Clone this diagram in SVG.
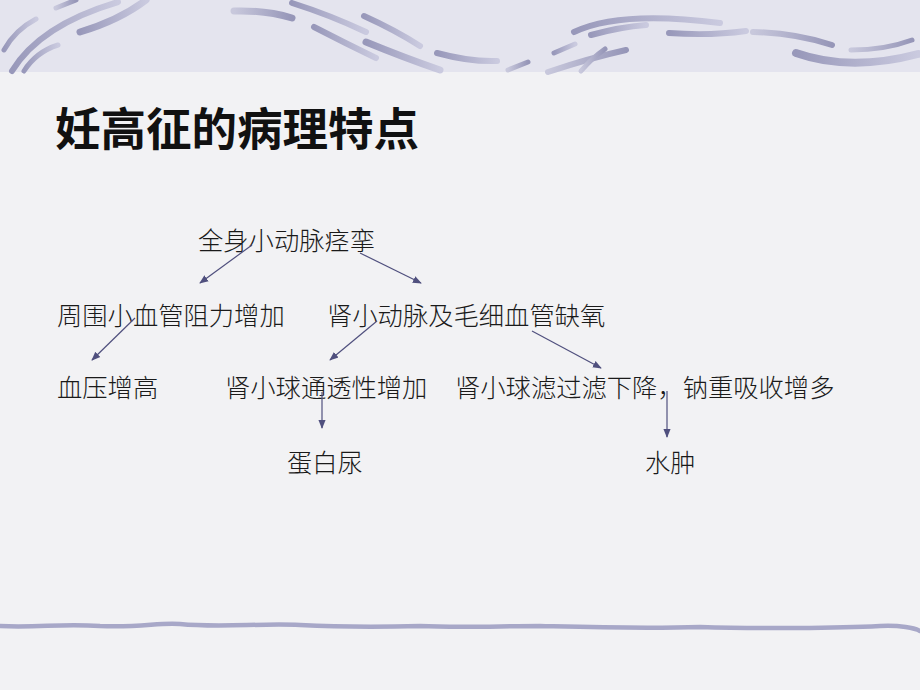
<svg xmlns="http://www.w3.org/2000/svg" width="920" height="690" viewBox="0 0 920 690">
<defs>
<linearGradient id="sg" x1="0" y1="0" x2="1" y2="0">
<stop offset="0" stop-color="#c8c8dc"/>
<stop offset="1" stop-color="#9696b8"/>
</linearGradient>
<linearGradient id="sg2" x1="0" y1="0" x2="1" y2="0">
<stop offset="0" stop-color="#9898ba"/>
<stop offset="1" stop-color="#cacadf"/>
</linearGradient>
<marker id="ah" viewBox="0 0 10 10" refX="9" refY="5" markerWidth="9" markerHeight="9" markerUnits="userSpaceOnUse" orient="auto">
<path d="M0,1 L10,5 L0,9 Z" fill="#50507e"/>
</marker>
<style>
.t{font-family:"Liberation Serif","Noto Sans CJK SC",serif;font-size:25.3px;font-weight:300;fill:#1a1a1a}
.title{font-family:"Liberation Sans","Noto Sans CJK SC",sans-serif;font-size:45.5px;font-weight:bold;fill:#111}
.c{stroke:#50507e;stroke-width:1.2;fill:none;marker-end:url(#ah)}
.s{fill:none;stroke-linecap:round;stroke:url(#sg)}
.s2{fill:none;stroke-linecap:round;stroke:url(#sg2)}
</style>
</defs>
<rect width="920" height="690" fill="#f2f2f4"/>
<rect width="920" height="72" fill="#e4e4ee"/>
<g id="decor-top">
<path class="s2" stroke-width="5" d="M4,50 Q15,30 36,19"/>
<path class="s2" stroke-width="6" d="M12,71 Q40,25 118,2"/>
<path class="s2" stroke-width="7" d="M80,32 Q120,20 146,0"/>
<path class="s" stroke-width="5" d="M56,8 L76,0"/>
<path class="s2" stroke-width="5" d="M24,71 Q36,52 58,45"/>
<path class="s" stroke-width="7" d="M234,11 Q265,10 292,18"/>
<path class="s2" stroke-width="6" d="M292,3 Q330,15 366,32"/>
<path class="s2" stroke-width="6" d="M314,27 Q345,43 376,58"/>
<path class="s2" stroke-width="6" d="M364,16 Q395,30 420,46"/>
<path class="s2" stroke-width="7" d="M366,42 Q405,58 440,70"/>
<path class="s2" stroke-width="6" d="M437,53 Q470,62 497,61"/>
<path class="s" stroke-width="5" d="M508,70 L528,62"/>
<path class="s" stroke-width="6" d="M548,72 Q590,58 626,50"/>
<path class="s2" stroke-width="5" d="M554,53 L575,44"/>
<path class="s" stroke-width="5" d="M581,71 Q592,58 605,49"/>
<path class="s2" stroke-width="6" d="M574,32 Q620,10 720,23"/>
<path class="s2" stroke-width="6" d="M591,35 Q620,27 646,25"/>
<path class="s2" stroke-width="6" d="M669,33 Q710,36 746,31"/>
<path class="s" stroke-width="6" d="M753,32 Q795,33 832,45"/>
<path class="s2" stroke-width="8" d="M796,53 Q850,72 918,54"/>
<path class="s" stroke-width="5" d="M851,50 Q885,50 912,40"/>
</g>
<g id="decor-bottom">
<path fill="none" stroke="#a8a8c8" stroke-width="4.5" stroke-linecap="round" d="M0,626 C40,628 60,623 100,626 C140,628 160,622 180,624 C220,628 260,623 300,625 C340,627 380,627 420,626 C460,628 500,626 540,626 C580,627 640,629 700,627 C760,629 840,628 880,626 C900,625 915,628 920,631"/>
</g>
<g id="title"><text class="title" x="55" y="146">妊高征的病理特点</text></g>
<g id="n1"><text class="t" x="198" y="250">全身小动脉痉挛</text></g>
<g id="n2"><text class="t" x="57" y="325">周围小血管阻力增加</text></g>
<g id="n3"><text class="t" x="327" y="325">肾小动脉及毛细血管缺氧</text></g>
<g id="n4"><text class="t" x="57" y="397">血压增高</text></g>
<g id="n5"><text class="t" x="225" y="397">肾小球通透性增加</text></g>
<g id="n6"><text class="t" x="455" y="397">肾小球滤过滤下降，钠重吸收增多</text></g>
<g id="n7"><text class="t" x="287" y="472">蛋白尿</text></g>
<g id="n8"><text class="t" x="645" y="472">水肿</text></g>
<g id="connectors">
<path class="c" d="M252,245 L200,283"/>
<path class="c" d="M360,253 L421,283"/>
<path class="c" d="M135,318 L92,360"/>
<path class="c" d="M377,321 L330,360"/>
<path class="c" d="M532,331 L601,368"/>
<path class="c" d="M322,392 L322,428"/>
<path class="c" d="M667,391 L667,437"/>
</g>
</svg>
